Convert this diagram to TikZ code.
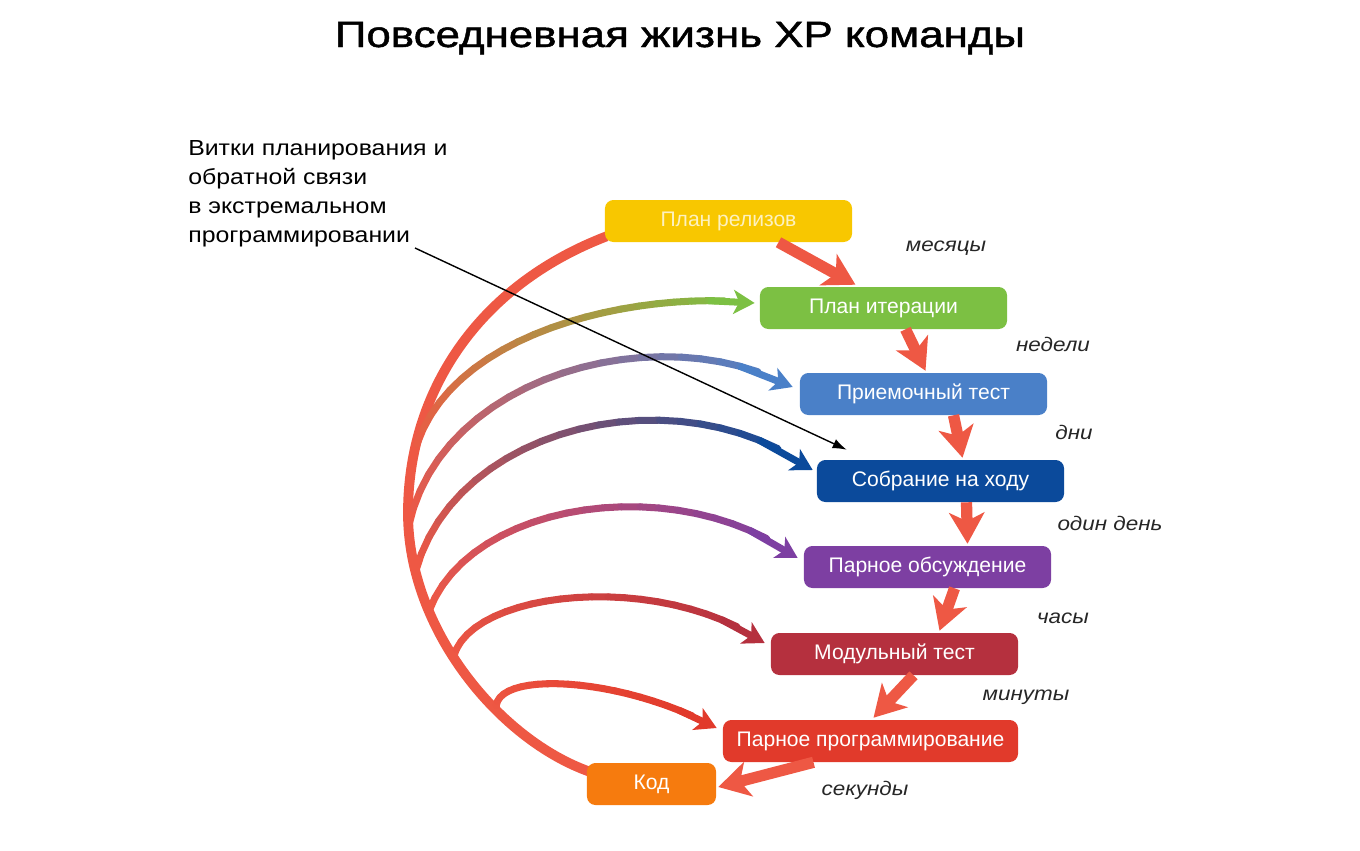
\documentclass[tikz,border=0pt]{standalone}
\usepackage{fontspec}
\setmainfont{Liberation Sans}
\newfontfamily\widefont[FakeStretch=1.14]{Liberation Sans}
\newfontfamily\headfont[FakeStretch=1.2, FakeBold=1.3]{Liberation Sans}
\usetikzlibrary{arrows.meta,calc,backgrounds}

\definecolor{relyellow}{HTML}{F8C700}
\definecolor{itergreen}{HTML}{7CC043}
\definecolor{accblue}{HTML}{4A80C8}
\definecolor{meetblue}{HTML}{0B4A9B}
\definecolor{pairpurple}{HTML}{7D3FA2}
\definecolor{unitred}{HTML}{B5303E}
\definecolor{progred}{HTML}{E13A2B}
\definecolor{codeorange}{HTML}{F67B0E}
\definecolor{looped}{HTML}{EE5844}

\tikzset{
  stage/.style={fill=#1, rounded corners=6pt, minimum width=6.175cm,
    minimum height=1.05cm, inner sep=0pt, text=white,
    font=\fontsize{15}{18}\selectfont},
  period/.style={font=\widefont\itshape\fontsize{14}{17}\selectfont, text=black!85},
  stepper/.style={draw=looped, line width=8pt,
    -{Stealth[length=22pt,width=25pt,inset=6pt]}},
  loopline/.style={line width=5pt, line cap=round},
}

% feedback loop: start, controls, tip, colour of the target
\newcommand\feedback[5]{
  \path (#1) .. controls (#2) and (#3) .. (#4)
    foreach \i in {0,...,24} {coordinate[pos=\i/24] (f\i)};
  \foreach \i [evaluate=\i as \j using int(\i+1),
               evaluate=\i as \m using int(4.5*\i)] in {0,...,21}
    \draw[loopline, #5!\m!looped] (f\i) -- (f\j);
  \draw[loopline, line cap=butt, #5,
    -{Stealth[length=15pt,width=17pt,inset=4pt]}] (f21) -- (f24);
}

\begin{document}
\begin{tikzpicture}[x=0.025cm, y=-0.025cm]
  \useasboundingbox (0,0) rectangle (1360,850);
  \node[anchor=base, font=\headfont\fontsize{26}{30}\selectfont] (title) at (680,47)
    {Повседневная жизнь XP команды};
  \node[anchor=north west, align=left, inner sep=0pt,
    font=\widefont\fontsize{15.5}{20.6}\selectfont] (note) at (188,140)
    {Витки планирования и\\обратной связи\\в экстремальном\\программировании};

  \node[stage=relyellow, text=white!75!relyellow] (rel) at (728.5,221) {План релизов};
  \node[stage=itergreen] (iter) at (883.5,308) {План итерации};
  \node[stage=accblue] (acc) at (923.5,394) {Приемочный тест};
  \node[stage=meetblue] (meet) at (940.5,481) {Собрание на ходу};
  \node[stage=pairpurple] (pair) at (927.5,567) {Парное обсуждение};
  \node[stage=unitred] (unit) at (894.5,654) {Модульный тест};
  \node[stage=progred, minimum width=7.375cm] (prog) at (870.5,741) {Парное программирование};
  \node[stage=codeorange, minimum width=3.225cm] (code) at (651.5,784) {Код};

  \node[period] (months) at (946,248) {месяцы};
  \node[period] (weeks) at (1053,344) {недели};
  \node[period] (days) at (1074,432) {дни};
  \node[period] (oneday) at (1110,523) {один день};
  \node[period] (hours) at (1063,618) {часы};
  \node[period] (minutes) at (1026,697) {минуты};
  \node[period] (seconds) at (865,790) {секунды};

  \begin{scope}[on background layer]
    % big loop from release plan down to code
    \draw[looped, line width=7pt] ($(rel.south west)+(2,-6)$)
      .. controls (477,286) and (408,393) .. (408,513) coordinate[pos=0.85] (b1)
      .. controls (408,630) and (500,740) .. ($(code.north west)+(3,9)$)
      coordinate[pos=0.04] (b2) coordinate[pos=0.17] (b3)
      coordinate[pos=0.29] (b4) coordinate[pos=0.44] (b5)
      coordinate[pos=0.64] (b6);
    \feedback{b1}{440,330}{640,290}{$(iter.west)+(-5,-5)$}{itergreen}
    \feedback{b2}{440,375}{660,315}{$(acc.west)+(-7,-7)$}{accblue}
    \feedback{b3}{455,425}{680,372}{$(meet.west)+(-4,-11)$}{meetblue}
    \feedback{b4}{470,500}{680,470}{$(pair.west)+(-6,-9)$}{pairpurple}
    \feedback{b5}{470,590}{660,570}{$(unit.west)+(-6,-11)$}{unitred}
    \feedback{b6}{490,670}{620,675}{$(prog.west)+(-6,-13)$}{progred}
  \end{scope}

  \draw[stepper] ($(rel.south)+(50,0)$) -- ($(iter.north)+(-28,-2)$);
  \draw[stepper] ($(iter.south)+(22,0)$) -- ($(acc.north)+(2,-2)$);
  \draw[stepper] ($(acc.south)+(30,0)$) -- ($(meet.north)+(22,-2)$);
  \draw[stepper] ($(meet.south)+(26,0)$) -- ($(pair.north)+(40,-2)$);
  \draw[stepper] ($(pair.south)+(27,0)$) -- ($(unit.north)+(45,-2)$);
  \draw[stepper] ($(unit.south)+(19,0)$) -- ($(prog.north)+(3,-2)$);
  \draw[stepper] ($(prog.south)+(-57,0)$) -- ($(code.east)+(2,3)$);

  \coordinate (tail) at (415,248);
  \draw[line width=1pt, -{Latex[length=10pt,width=7pt]}] (tail) -- ($(meet.north west)+(30,-10)$);
\end{tikzpicture}
\end{document}
